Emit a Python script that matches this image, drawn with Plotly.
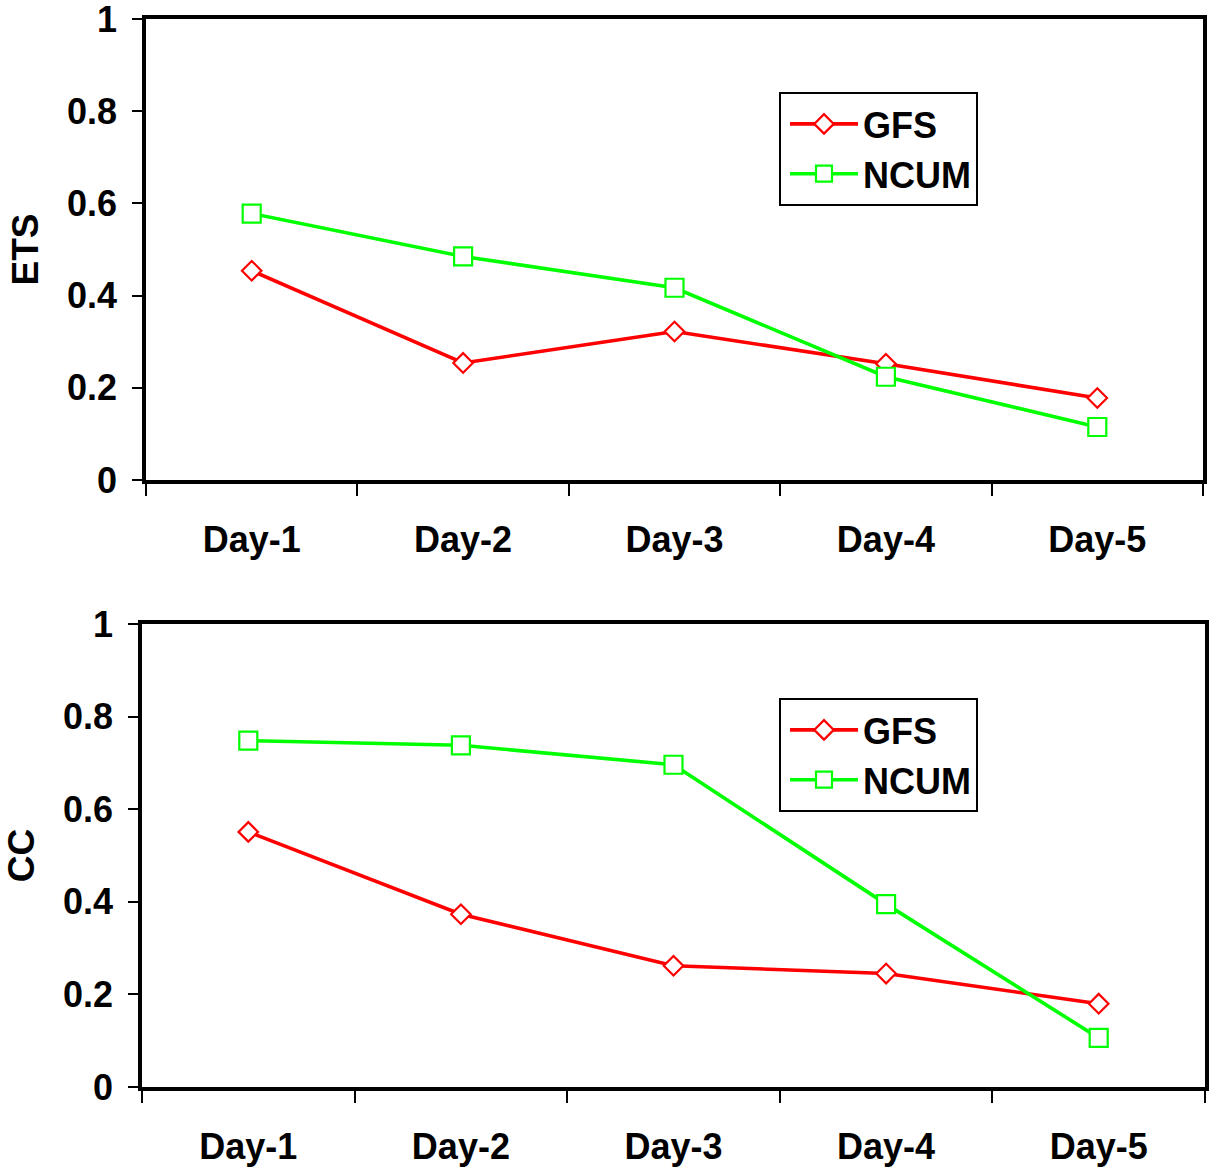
import plotly.graph_objects as go

days = ["Day-1", "Day-2", "Day-3", "Day-4", "Day-5"]
ets_gfs = [0.454, 0.254, 0.322, 0.252, 0.178]
ets_ncum = [0.578, 0.485, 0.417, 0.224, 0.115]
cc_gfs = [0.551, 0.373, 0.262, 0.245, 0.180]
cc_ncum = [0.748, 0.738, 0.696, 0.395, 0.106]

RED = "#FF0000"
GREEN = "#00FF00"
FONT = "Liberation Sans"

fig = go.Figure()

def add(y, name, color, symbol, size, xa, ya, leg):
    fig.add_trace(go.Scatter(
        x=days, y=y, name=name, mode="lines+markers",
        line=dict(color=color, width=3.6),
        marker=dict(symbol=symbol, size=size, color="white",
                    line=dict(color=color, width=2.2)),
        xaxis=xa, yaxis=ya, legend=leg))

add(ets_gfs, "GFS", RED, "diamond", 15, "x", "y", "legend")
add(ets_ncum, "NCUM", GREEN, "square", 18, "x", "y", "legend")
add(cc_gfs, "GFS", RED, "diamond", 15, "x2", "y2", "legend2")
add(cc_ncum, "NCUM", GREEN, "square", 18, "x2", "y2", "legend2")

tickfont = dict(family=FONT, size=36, color="black", weight="bold")

def xaxis(domain, anchor):
    return dict(domain=domain, anchor=anchor, type="category",
                range=[-0.5, 4.5], tickson="boundaries", ticks="outside",
                ticklen=12, tickwidth=2, tickcolor="black",
                showline=True, linewidth=3.5, linecolor="black", mirror=True,
                showgrid=False, zeroline=False, tickfont=tickfont,
                ticklabelstandoff=25, automargin=False,
                ticklabeloverflow="allow")

def yaxis(domain, anchor, title):
    return dict(domain=domain, anchor=anchor, range=[0, 1], dtick=0.2,
                ticks="outside", ticklen=10, tickwidth=2, tickcolor="black",
                showline=True, linewidth=3.5, linecolor="black", mirror=True,
                showgrid=False, zeroline=False, tickfont=tickfont,
                ticklabelstandoff=8, automargin=False,
                ticklabeloverflow="allow",
                title=dict(text=title, font=dict(family=FONT, size=37, color="black", weight="bold"),
                           standoff=18))

legfont = dict(family=FONT, size=36, color="black", weight="bold")

fig.update_layout(
    width=1209, height=1169,
    margin=dict(l=0, r=0, t=0, b=0),
    paper_bgcolor="white", plot_bgcolor="white",
    xaxis=xaxis([146/1209, 1203/1209], "y"),
    yaxis=yaxis([1-480/1169, 1-19/1169], "x", "ETS"),
    xaxis2=xaxis([142/1209, 1205/1209], "y2"),
    yaxis2=yaxis([1-1087/1169, 1-624/1169], "x2", "CC"),
    legend=dict(x=779/1209, y=1-92/1169, xanchor="left", yanchor="top",
                bordercolor="black", borderwidth=2, bgcolor="white",
                font=legfont, itemwidth=68, indentation=4, tracegroupgap=0),
    legend2=dict(x=779/1209, y=1-698/1169, xanchor="left", yanchor="top",
                 bordercolor="black", borderwidth=2, bgcolor="white",
                 font=legfont, itemwidth=68, indentation=4, tracegroupgap=0),
    showlegend=True,
)

fig.write_html("out.html", config={"displayModeBar": False},
               post_script="document.body.style.margin='0px';")
